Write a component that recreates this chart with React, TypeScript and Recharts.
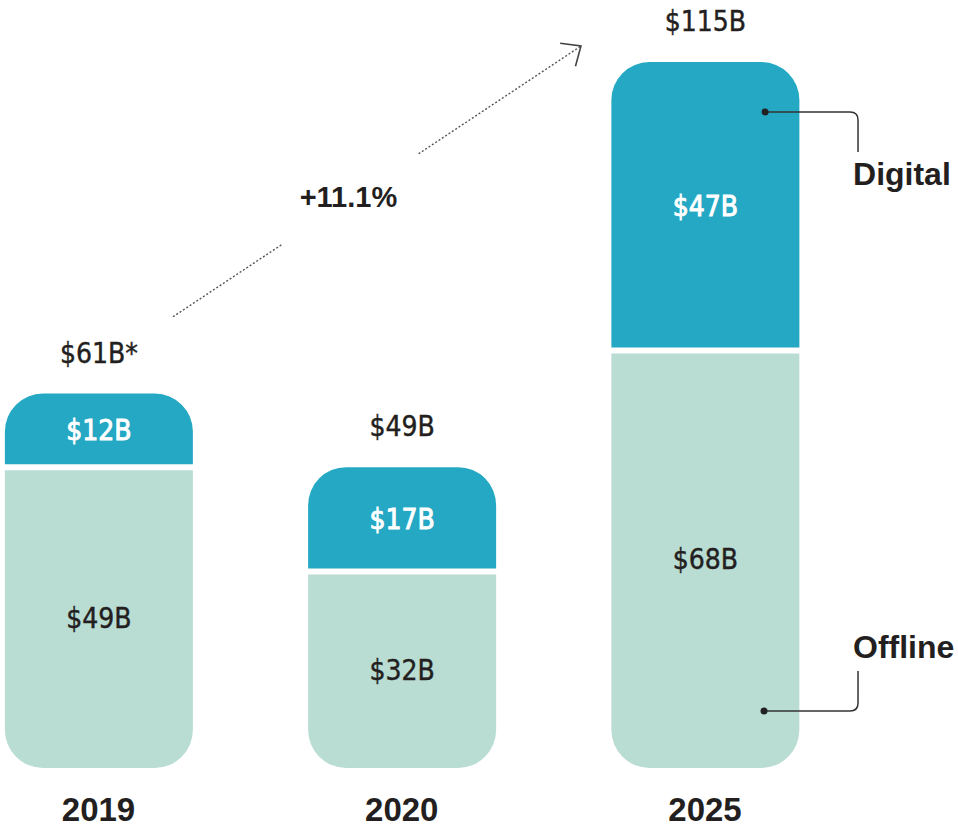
import React from 'react';
import { BarChart, Bar, XAxis, YAxis, LabelList, ReferenceLine } from 'recharts';

const years = ['2019', '2020', '2025'];
const offline = [49, 32, 68];
const digital = [12, 17, 47];
const totals = ['$61B*', '$49B', '$115B'];
const growthLabel = '+11.1%';
const digitalName = 'Digital';
const offlineName = 'Offline';

const data = years.map((y, i) => ({
  idx: i,
  year: y,
  offline: offline[i],
  digital: digital[i],
  total: totals[i],
}));

const DIGITAL_COLOR = '#24A8C4';
const OFFLINE_COLOR = '#B9DCD3';
const DARK = '#231F20';
const NARROW = '"Liberation Sans Narrow", "DejaVu Sans Condensed", "Liberation Sans", sans-serif';
const SANS = '"Liberation Sans", Arial, sans-serif';
const R = 38;
const GAP = 3;

const box = (p: any) => {
  const vb = p.viewBox && p.viewBox.width != null ? p.viewBox : p;
  return { x: Number(vb.x), y: Number(vb.y), width: Number(vb.width), height: Number(vb.height) };
};

const DigitalShape = (props: any) => {
  const { x, y, width: w, fill } = props;
  const h = props.height - GAP;
  if (!(h > 0)) return null;
  const r = Math.min(R, h, w / 2);
  const d = `M${x},${y + h} V${y + r} A${r},${r} 0 0 1 ${x + r},${y} H${x + w - r} A${r},${r} 0 0 1 ${x + w},${y + r} V${y + h} Z`;
  return <path d={d} fill={fill} />;
};

const OfflineShape = (props: any) => {
  const { x, width: w, fill } = props;
  const y = props.y + GAP;
  const h = props.height - GAP;
  if (!(h > 0)) return null;
  const r = Math.min(R, h, w / 2);
  const d = `M${x},${y} V${y + h - r} A${r},${r} 0 0 0 ${x + r},${y + h} H${x + w - r} A${r},${r} 0 0 0 ${x + w},${y + h - r} V${y} Z`;
  return <path d={d} fill={fill} />;
};

const segLabel = (color: string, sw: number) => (props: any) => {
  const { x, y, width, height } = box(props);
  return (
    <text x={x + width / 2} y={y + height / 2 + 10} textAnchor="middle" fill={color} stroke={color} strokeWidth={sw} fontSize={28} fontFamily={NARROW}>
      {`$${props.value}B`}
    </text>
  );
};

const totalLabel = (props: any) => {
  const { x, y, width } = box(props);
  return (
    <text x={x + width / 2} y={y - 31} textAnchor="middle" fill={DARK} stroke={DARK} strokeWidth={0.4} fontSize={28} fontFamily={NARROW}>
      {props.value}
    </text>
  );
};

const ArrowShape = (props: any) => {
  const { x1, y1, x2, y2 } = props;
  const dx = x2 - x1;
  const dy = y2 - y1;
  const p = (t: number) => [x1 + dx * t, y1 + dy * t];
  const [ax, ay] = p(0.268);
  const [bx, by] = p(0.602);
  const [tx, ty] = p(0.43);
  const ang = Math.atan2(dy, dx);
  const L = 21;
  const s = 0.72;
  const h1x = x2 - L * Math.cos(ang - s);
  const h1y = y2 - L * Math.sin(ang - s);
  const h2x = x2 - L * Math.cos(ang + s);
  const h2y = y2 - L * Math.sin(ang + s);
  return (
    <g>
      <line x1={x1} y1={y1} x2={ax} y2={ay} stroke="#555" strokeWidth={1.4} strokeDasharray="2 2" />
      <line x1={bx} y1={by} x2={x2} y2={y2} stroke="#555" strokeWidth={1.4} strokeDasharray="2 2" />
      <path d={`M${h1x},${h1y} L${x2},${y2} L${h2x},${h2y}`} fill="none" stroke="#444" strokeWidth={1.6} />
      <text x={tx} y={ty + 7} textAnchor="middle" fill={DARK} fontSize={29} fontWeight="bold" fontFamily={SANS}>
        {growthLabel}
      </text>
    </g>
  );
};

const leader = (label: string) => (props: any) => {
  const { x1, y1, x2, y2 } = props;
  const r = 8;
  const sgn = y2 > y1 ? 1 : -1;
  const d = `M${x1},${y1} H${x2 - r} Q${x2},${y1} ${x2},${y1 + sgn * r} V${y2}`;
  const textY = sgn > 0 ? y2 + 33 : y2 - 13;
  return (
    <g>
      <path d={d} fill="none" stroke="#333" strokeWidth={1.5} />
      <circle cx={x1} cy={y1} r={3.5} fill="#222" />
      <text x={x2 - 5} y={textY} fill={DARK} fontSize={32} fontWeight="bold" fontFamily={SANS}>
        {label}
      </text>
    </g>
  );
};

export default function App() {
  return (
    <div style={{ position: 'absolute', left: 0, top: 0, width: 958, height: 828, background: '#fff' }}>
      <BarChart width={958} height={828} data={data} margin={{ top: 62, right: 0, bottom: 0, left: 0 }} barSize={188}>
        <XAxis
          dataKey="idx"
          type="number"
          domain={[0, 2]}
          ticks={[0, 1, 2]}
          interval={0}
          tickFormatter={(v: number) => years[v]}
          padding={{ left: 98.5, right: 253 }}
          axisLine={false}
          tickLine={false}
          height={60}
          tickMargin={24}
          tick={{ fontSize: 33, fontWeight: 'bold', fill: DARK, fontFamily: SANS }}
        />
        <YAxis hide domain={[0, 115]} />
        <Bar dataKey="offline" stackId="a" fill={OFFLINE_COLOR} shape={OfflineShape} isAnimationActive={false}>
          <LabelList dataKey="offline" content={segLabel(DARK, 0.4)} />
        </Bar>
        <Bar dataKey="digital" stackId="a" fill={DIGITAL_COLOR} shape={DigitalShape} isAnimationActive={false}>
          <LabelList dataKey="digital" content={segLabel('#FFFFFF', 0.9)} />
          <LabelList dataKey="total" content={totalLabel} />
        </Bar>
        <ReferenceLine
          segment={[{ x: 0.2457, y: 73.5 }, { x: 1.591, y: 117.6 }]}
          ifOverflow="visible"
          shape={ArrowShape}
        />
        <ReferenceLine
          segment={[{ x: 2.198, y: 106.86 }, { x: 2.5046, y: 100.34 }]}
          ifOverflow="visible"
          shape={leader(digitalName)}
        />
        <ReferenceLine
          segment={[{ x: 2.1946, y: 9.28 }, { x: 2.5046, y: 15.8 }]}
          ifOverflow="visible"
          shape={leader(offlineName)}
        />
      </BarChart>
    </div>
  );
}
